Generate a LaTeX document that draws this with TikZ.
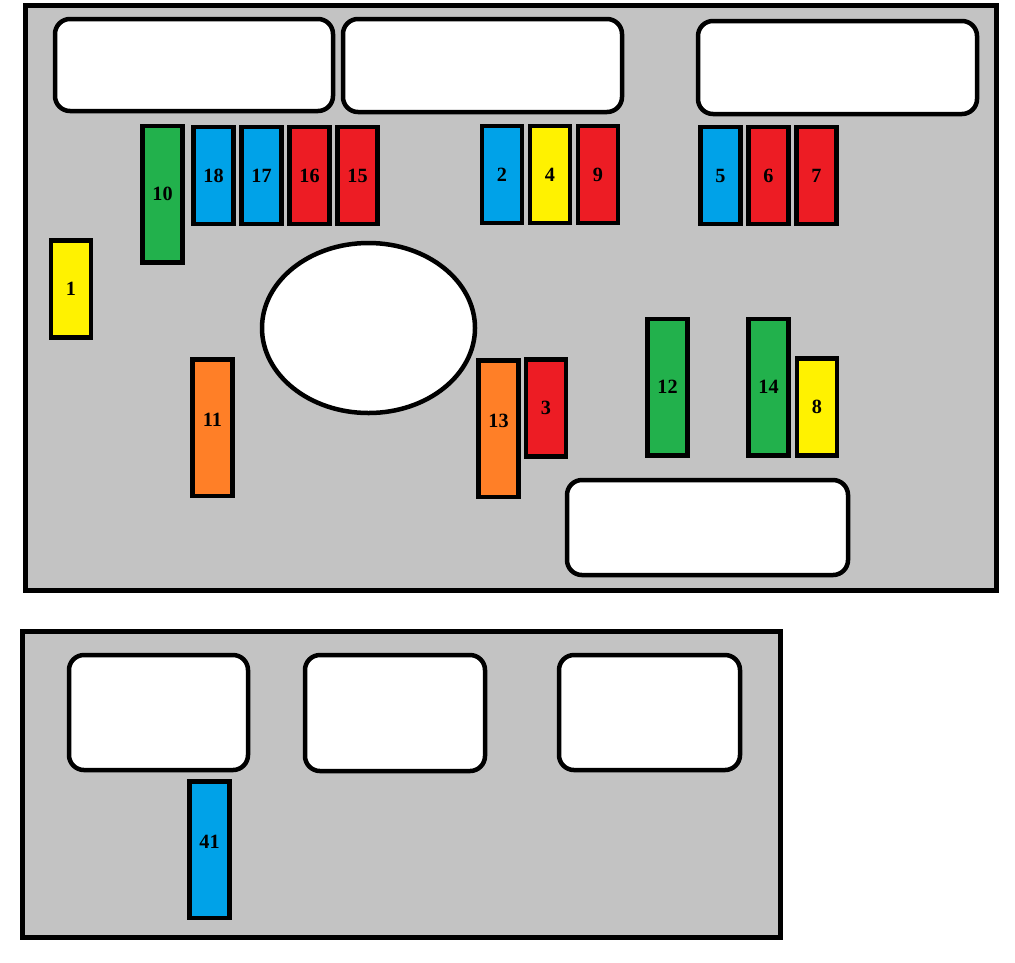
\documentclass[tikz,border=0pt]{standalone}
\usepackage{fontspec}
\setmainfont{Liberation Serif}
\usetikzlibrary{positioning}
\definecolor{panelgray}{RGB}{195,195,195}
\definecolor{fblue}{RGB}{0,162,232}
\definecolor{fyellow}{RGB}{255,242,0}
\definecolor{fred}{RGB}{237,28,36}
\definecolor{fgreen}{RGB}{34,177,76}
\definecolor{forange}{RGB}{255,127,39}
\tikzset{
  panel/.style ={draw=black, fill=panelgray, line width=1mm},
  socket/.style={draw=black, fill=white, line width=0.9mm, rounded corners=3mm},
  fuse/.style  ={draw=black, line width=0.9mm, minimum width=8mm, inner sep=0pt,
                 outer sep=0pt, font=\fontsize{11.5}{12}\selectfont\bfseries},
  short/.style ={fuse, minimum height=19.4mm},
  tall/.style  ={fuse, minimum height=27.3mm},
  lifted/.style={text depth=3mm},   % label sits above the middle
}
\begin{document}
\begin{tikzpicture}[x=0.2mm, y=-0.2mm, node distance=1.6mm]
\useasboundingbox (0,0) rectangle (1015,962);

% ---- main box ----
\draw[panel] (25,5) rectangle (996,590);
\draw[socket] (55,19) rectangle (333,111);
\draw[socket] (343,19) rectangle (622,112);
\draw[socket] (698,21) rectangle (977,114);
\draw[socket] (567,480) rectangle (848,575);
\draw[draw=black, fill=white, line width=0.9mm] (368.5,328) ellipse [x radius=21.3mm, y radius=17mm];

% ---- top row, left ----
\node[tall, fill=fgreen] (f10) at (162.5,194) {10};
\node[short, fill=fblue] (f18) at (213.5,175.5) {18};
\node[short, fill=fblue, right=of f18] (f17) {17};
\node[short, fill=fred, right=of f17] (f16) {16};
\node[short, fill=fred, right=of f16] (f15) {15};

% ---- top row, middle ----
\node[short, fill=fblue] (f2) at (502,174.5) {2};
\node[short, fill=fyellow, right=of f2] (f4) {4};
\node[short, fill=fred, right=of f4] (f9) {9};

% ---- top row, right ----
\node[short, fill=fblue] (f5) at (720.5,175.5) {5};
\node[short, fill=fred, right=of f5] (f6) {6};
\node[short, fill=fred, right=of f6] (f7) {7};

% ---- lower fuses ----
\node[short, fill=fyellow] (f1) at (71,289) {1};
\node[tall, lifted, fill=forange] (f11) at (212.5,427.5) {11};
\node[tall, lifted, fill=forange] (f13) at (498.5,428.5) {13};
\node[short, fill=fred] (f3) at (546,408) {3};
\node[tall, fill=fgreen] (f12) at (667.5,387) {12};
\node[tall, fill=fgreen] (f14) at (768.5,387) {14};
\node[short, fill=fyellow] (f8) at (817,407) {8};

% ---- second box ----
\draw[panel] (22,631) rectangle (780,937);
\draw[socket] (69,655) rectangle (248,770);
\draw[socket] (305,655) rectangle (485,771);
\draw[socket] (559,655) rectangle (740,770);
\node[tall, lifted, fill=fblue] (f41) at (209.5,849.5) {41};

\end{tikzpicture}
\end{document}
